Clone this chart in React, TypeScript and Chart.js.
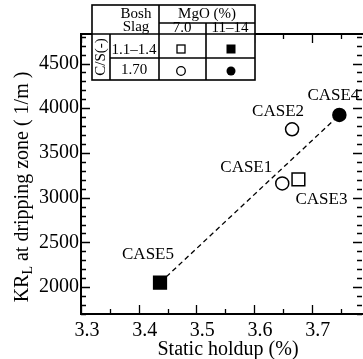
import React, { useEffect, useRef } from "react";
import { Chart, registerables } from "chart.js";

Chart.register(...registerables);

// ---- data ----
const caseLabels = ["CASE1", "CASE2", "CASE3", "CASE4", "CASE5"];
const staticHoldup = [3.649, 3.666, 3.677, 3.748, 3.437];
const krL = [3160, 3765, 3205, 3925, 2050];
const markerShapes = ["circle", "circle", "rect", "circle", "rect"];
const markerFilled = [false, false, false, true, true];
const trendHoldup = [3.437, 3.748];
const trendKrL = [2050, 3925];

const xTickValues = [3.3, 3.4, 3.5, 3.6, 3.7];
const yTickValues = [2000, 2500, 3000, 3500, 4000, 4500];

const xMin = 3.3;
const xMax = 3.789;
const xMajorStep = 0.1;
const xMinorStep = 0.05;
const yMin = 1700;
const yMax = 4830;
const yMajorStep = 500;
const yMinorStep = 100;

const xTitle = "Static holdup (%)";
const yTitleMain = "KR";
const yTitleSub = "L";
const yTitleRest = " at dripping zone ( 1/m )";

const tableHeaderBosh = ["Bosh", "Slag"];
const tableHeaderMgO = "MgO (%)";
const tableMgOValues = ["7.0", "11\u201314"];
const tableCSLabel = "C/S(-)";
const tableCSValues = ["1.1\u20131.4", "1.70"];

// label offsets (annotation placement, px relative to point)
const labelOffsets: [number, number][] = [
  [-36, -16],
  [-14, -18],
  [23, 20],
  [-6, -19],
  [-12, -28],
];

const SERIF = "'Liberation Serif', 'DejaVu Serif', serif";

const near = (v: number, step: number) => {
  const r = v / step;
  return Math.abs(r - Math.round(r)) < 1e-6;
};

const decorPlugin = {
  id: "decor",
  afterDatasetsDraw(chart: any) {
    const { ctx, chartArea: a, scales } = chart;
    const xs = scales.x;
    const ys = scales.y;
    ctx.save();
    ctx.strokeStyle = "#000";
    ctx.lineWidth = 1.3;
    // inward ticks
    for (let v = xMin; v <= xMax + 1e-9; v += xMinorStep) {
      const px = Math.round(xs.getPixelForValue(v)) + 0.5;
      const len = near(v, xMajorStep) ? 9 : 5;
      ctx.beginPath();
      ctx.moveTo(px, a.bottom);
      ctx.lineTo(px, a.bottom - len);
      ctx.moveTo(px, a.top);
      ctx.lineTo(px, a.top + len);
      ctx.stroke();
    }
    for (let v = yMin; v <= yMax + 1e-9; v += yMinorStep) {
      const py = Math.round(ys.getPixelForValue(v)) + 0.5;
      const len = near(v, yMajorStep) ? 9 : 5;
      ctx.beginPath();
      ctx.moveTo(a.left, py);
      ctx.lineTo(a.left + len, py);
      ctx.moveTo(a.right - 1, py);
      ctx.lineTo(a.right - 1 - len, py);
      ctx.stroke();
    }
    // top border
    ctx.lineWidth = 2;
    ctx.beginPath();
    ctx.moveTo(a.left - 1, a.top);
    ctx.lineTo(a.right, a.top);
    ctx.stroke();

    // case labels
    const meta = chart.getDatasetMeta(1);
    ctx.fillStyle = "#000";
    ctx.font = `17px ${SERIF}`;
    ctx.textAlign = "center";
    ctx.textBaseline = "middle";
    meta.data.forEach((pt: any, i: number) => {
      const [dx, dy] = labelOffsets[i];
      ctx.fillText(caseLabels[i], pt.x + dx, pt.y + dy);
    });

    // axis titles
    ctx.font = `20px ${SERIF}`;
    ctx.fillText(xTitle, 228, 350);

    ctx.save();
    ctx.translate(23, 187);
    ctx.rotate(-Math.PI / 2);
    ctx.textAlign = "left";
    ctx.font = `20px ${SERIF}`;
    const w1 = ctx.measureText(yTitleMain).width;
    const w3 = ctx.measureText(yTitleRest).width;
    ctx.font = `14px ${SERIF}`;
    const w2 = ctx.measureText(yTitleSub).width;
    const total = w1 + w2 + w3;
    const x0 = -total / 2;
    ctx.font = `20px ${SERIF}`;
    ctx.fillText(yTitleMain, x0, 0);
    ctx.font = `14px ${SERIF}`;
    ctx.fillText(yTitleSub, x0 + w1, 5);
    ctx.font = `20px ${SERIF}`;
    ctx.fillText(yTitleRest, x0 + w1 + w2, 0);
    ctx.restore();

    // legend table
    const T = { l: 92, r: 255, t: 5, b: 80, c1: 110, c2: 159, c3: 206, h1: 23, h2: 34, h3: 58 };
    ctx.fillStyle = "#fff";
    ctx.fillRect(T.l, T.t, T.r - T.l, T.b - T.t);
    ctx.strokeStyle = "#000";
    ctx.lineWidth = 1.6;
    const line = (x1: number, y1: number, x2: number, y2: number) => {
      ctx.beginPath();
      ctx.moveTo(x1, y1);
      ctx.lineTo(x2, y2);
      ctx.stroke();
    };
    ctx.strokeRect(T.l, T.t, T.r - T.l, T.b - T.t);
    line(T.c2, T.t, T.c2, T.b);
    line(T.c2, T.h1, T.r, T.h1);
    line(T.l, T.h2, T.r, T.h2);
    line(T.c1, T.h2, T.c1, T.b);
    line(T.c3, T.h1, T.c3, T.b);
    line(T.c1, T.h3, T.r, T.h3);

    ctx.fillStyle = "#000";
    ctx.font = `15px ${SERIF}`;
    ctx.textAlign = "center";
    ctx.textBaseline = "middle";
    ctx.fillText(tableHeaderBosh[0], 136, 14);
    ctx.fillText(tableHeaderBosh[1], 136, 27);
    ctx.fillText(tableHeaderMgO, 207, 14);
    ctx.fillText(tableMgOValues[0], 182, 28);
    ctx.fillText(tableMgOValues[1], 230, 28);
    ctx.fillText(tableCSValues[0], 134, 50);
    ctx.fillText(tableCSValues[1], 134, 70);
    ctx.save();
    ctx.translate(101, 57);
    ctx.rotate(-Math.PI / 2);
    ctx.fillText(tableCSLabel, 0, 0);
    ctx.restore();

    // legend markers
    ctx.lineWidth = 1.3;
    ctx.strokeRect(177, 45, 8, 8);
    ctx.fillRect(226.5, 44.5, 9, 9);
    ctx.beginPath();
    ctx.arc(181, 71, 4.3, 0, Math.PI * 2);
    ctx.stroke();
    ctx.beginPath();
    ctx.arc(231, 71, 4.5, 0, Math.PI * 2);
    ctx.fill();
    ctx.restore();
  },
};

export default function App() {
  const ref = useRef<HTMLCanvasElement | null>(null);
  useEffect(() => {
    document.body.style.margin = "0";
    const canvas = ref.current!;
    const chart = new Chart(canvas, {
      type: "scatter",
      data: {
        datasets: [
          {
            type: "line",
            data: trendHoldup.map((x, i) => ({ x, y: trendKrL[i] })),
            borderColor: "#000",
            borderWidth: 1.3,
            borderDash: [5, 3.5],
            pointRadius: 0,
            fill: false,
          } as any,
          {
            data: staticHoldup.map((x, i) => ({ x, y: krL[i] })),
            pointStyle: markerShapes as any,
            pointRadius: markerShapes.map((s) => (s === "rect" ? 9 : 6.5)),
            pointBackgroundColor: markerFilled.map((f) => (f ? "#000" : "#fff")),
            pointBorderColor: "#000",
            pointBorderWidth: 1.5,
          },
        ],
      },
      options: {
        animation: false,
        responsive: false,
        layout: { autoPadding: false, padding: { top: 34, right: 0, left: 0, bottom: 0 } },
        plugins: {
          legend: { display: false },
          tooltip: { enabled: false },
        },
        scales: {
          x: {
            type: "linear",
            min: xMin,
            max: xMax,
            grid: { display: false, drawTicks: false },
            border: { display: true, color: "#000", width: 2 },
            ticks: {
              color: "#000",
              font: { family: SERIF, size: 20 },
              padding: 5,
              labelOffset: 6,
              autoSkip: false,
              maxRotation: 0,
              callback: (v: any) => Number(v).toFixed(1),
            },
            afterBuildTicks: (s: any) => {
              s.ticks = xTickValues.map((value) => ({ value }));
            },
            afterFit: (s: any) => {
              s.height = 45;
              s.paddingLeft = 0;
              s.paddingRight = 0;
            },
          },
          y: {
            type: "linear",
            min: yMin,
            max: yMax,
            grid: { display: false, drawTicks: false },
            border: { display: true, color: "#000", width: 2 },
            ticks: {
              color: "#000",
              font: { family: SERIF, size: 20 },
              padding: 2,
              autoSkip: false,
              callback: (v: any) => String(v),
            },
            afterBuildTicks: (s: any) => {
              s.ticks = yTickValues.map((value) => ({ value }));
            },
            afterFit: (s: any) => {
              s.width = 81;
              s.paddingTop = 0;
              s.paddingBottom = 0;
            },
          },
        },
      },
      plugins: [decorPlugin],
    });
    return () => chart.destroy();
  }, []);
  return (
    <div style={{ width: 363, height: 359 }}>
      <canvas ref={ref} width={363} height={359} />
    </div>
  );
}
